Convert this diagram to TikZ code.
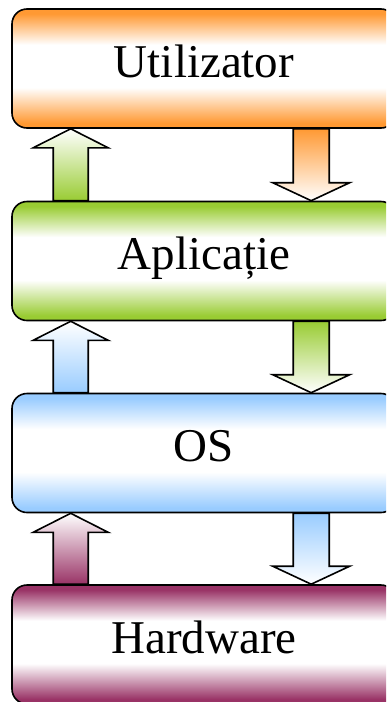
\documentclass[tikz,border=0pt]{standalone}
\usepackage{fontspec}
\setmainfont{Liberation Serif}
\usetikzlibrary{calc}

\definecolor{cUser}{HTML}{FF9933}
\definecolor{cApp}{HTML}{99CC33}
\definecolor{cOS}{HTML}{99CCFF}
\definecolor{cHW}{HTML}{993366}

% layer fill: colour at top and bottom, white band in the middle
\colorlet{layercol}{white}
\pgfdeclareverticalshading[layercol]{layershade}{100bp}{%
  color(0bp)=(layercol); color(27bp)=(layercol);
  color(42bp)=(white); color(60bp)=(white);
  color(73bp)=(layercol); color(100bp)=(layercol)}

\tikzset{
  layer/.style={draw=black, line width=1.6pt, rounded corners=15pt,
    minimum width=384pt, minimum height=119pt, inner sep=0pt,
    font=\fontsize{47}{50}\selectfont, text height=17pt, text depth=0pt,
    layer color=#1, shading=layershade},
  layer color/.code={\colorlet{layercol}{#1}},
  flow/.style={draw=black, line width=1.6pt, line join=miter},
}

% upward block arrow from the top of #2 to the bottom of #1, tinted #3
\newcommand\upflow[3]{%
  \draw[flow, top color=white, middle color=#3!30, bottom color=#3]
    let \p1=($(#1.south west)+(59.5,0)$), \p2=($(#2.north west)+(59.5,0)$) in
    (\p1) -- (\x1+37.5pt,\y1-19pt) -- (\x1+17.5pt,\y1-19pt)
    -- (\x1+17.5pt,\y2) -- (\x1-17.5pt,\y2) -- (\x1-17.5pt,\y1-19pt)
    -- (\x1-37.5pt,\y1-19pt) -- cycle;}
% downward block arrow from the bottom of #1 to the top of #2, tinted #3
\newcommand\downflow[3]{%
  \draw[flow, top color=#3, middle color=#3!30, bottom color=white]
    let \p1=($(#1.south west)+(300,0)$), \p2=($(#2.north west)+(300,0)$) in
    (\x1-18pt,\y1) -- (\x1+18pt,\y1) -- (\x1+18pt,\y2+18pt)
    -- (\x1+38.5pt,\y2+18pt) -- (\p2) -- (\x1-38.5pt,\y2+18pt)
    -- (\x1-18pt,\y2+18pt) -- cycle;}

\begin{document}
\begin{tikzpicture}[x=1pt, y=-1pt]
  \useasboundingbox (0,0) rectangle (386,702);
  \clip (0,0) rectangle (386,702);

  \node[layer=cUser] (user) at (204,68.5) {Utilizator};
  \node[layer=cApp]  (app)  at (204,261)  {Aplicație};
  \node[layer=cOS]   (os)   at (204,453)  {OS};
  \node[layer=cHW]   (hw)   at (204,644.5) {Hardware};

  \upflow{user}{app}{cApp}
  \upflow{app}{os}{cOS}
  \upflow{os}{hw}{cHW}

  \downflow{user}{app}{cUser}
  \downflow{app}{os}{cApp}
  \downflow{os}{hw}{cOS}
\end{tikzpicture}
\end{document}
